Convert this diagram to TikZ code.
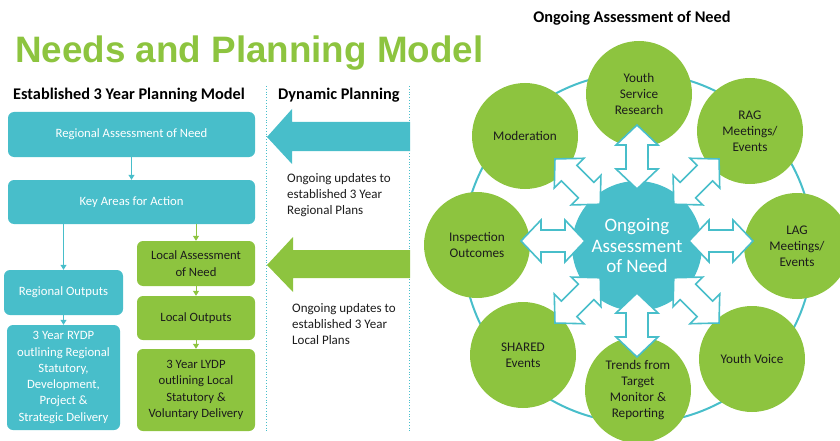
\documentclass[tikz,border=0pt]{standalone}
\usepackage{fontspec}
\setmainfont{Carlito}
\newfontfamily\titlefont{Liberation Sans}
\usetikzlibrary{arrows.meta,calc}
\definecolor{tealc}{RGB}{72,190,202}
\definecolor{greenc}{RGB}{141,196,63}
\definecolor{txtdark}{RGB}{28,28,28}
\begin{document}
\begin{tikzpicture}[x=1pt,y=-1pt,
  box/.style={rounded corners=6pt, inner sep=2pt, align=center,
    font=\fontsize{12.7}{16.3}\selectfont},
  tbox/.style={box, fill=tealc, text=white},
  gbox/.style={box, fill=greenc, text=txtdark},
  header/.style={font=\bfseries\fontsize{16.3}{18}\selectfont, text=black, inner sep=0},
  note/.style={font=\fontsize{13}{16}\selectfont, text=txtdark, align=left, inner sep=0},
  tline/.style={draw=tealc, line width=1pt, -{Triangle[width=6pt,length=5pt]}},
  gline/.style={draw=greenc, line width=1pt, -{Triangle[width=6pt,length=5pt]}},
  divider/.style={draw=tealc, line width=0.8pt, dotted},
  outer/.style={circle, fill=greenc, minimum size=106pt, inner sep=0, align=center,
    font=\fontsize{13.2}{16}\selectfont, text=txtdark},
  hub/.style={circle, fill=tealc, minimum size=130pt, inner sep=0, align=center,
    font=\fontsize{19}{20.5}\selectfont, text=white},
  darr/.style={fill=white, draw=tealc, line width=1.6pt, line join=miter}
]
\useasboundingbox (0,0) rectangle (840,441);

% title and column headers
\node[anchor=base west, font=\titlefont\bfseries\fontsize{36.8}{40}\selectfont,
  text=greenc, inner sep=0] (title) at (15,63) {Needs and Planning Model};
\node[header, anchor=base west] (hdrA) at (13,100) {Established 3 Year Planning Model};
\node[header, anchor=base west] (hdrB) at (278,100) {Dynamic Planning};
\node[header, anchor=base] (hdrC) at (632,23) {Ongoing Assessment of Need};

% dotted column dividers
\coordinate (d1a) at (266,86);
\coordinate (d1b) at (266,432);
\coordinate (d2a) at (409,86);
\coordinate (d2b) at (409,432);
\draw[divider] (d1a) -- (d1b);
\draw[divider] (d2a) -- (d2b);

% established planning model
\node[tbox, minimum width=247pt, minimum height=45pt] (ran) at (131.5,134.5) {Regional Assessment of Need};
\node[tbox, minimum width=247pt, minimum height=44pt] (kaa) at (131.5,202) {Key Areas for Action};
\node[tbox, minimum width=119pt, minimum height=45pt] (rout) at (63.5,292.5) {Regional Outputs};
\node[tbox, minimum width=113pt, minimum height=105pt] (rydp) at (63.5,377.5)
  {3 Year RYDP\\outlining Regional\\Statutory,\\Development,\\Project \&\\Strategic Delivery};
\node[gbox, minimum width=118pt, minimum height=45pt] (lan) at (196,263.5) {Local Assessment\\of Need};
\node[gbox, minimum width=118pt, minimum height=44pt] (lout) at (196,318) {Local Outputs};
\node[gbox, minimum width=118pt, minimum height=82pt] (lydp) at (196,390)
  {3 Year LYDP\\outlining Local\\Statutory \&\\Voluntary Delivery};

\draw[tline] (ran.south) -- (kaa.north);
\draw[tline] (rout.north |- kaa.south) -- (rout.north);
\draw[tline] (rout.south) -- (rydp.north);
\draw[gline] (lan.north |- kaa.south) -- (lan.north);
\draw[gline] (lan.south) -- (lout.north);
\draw[gline] (lout.south) -- (lydp.north);

% dynamic planning block arrows
\fill[tealc] (267,137) -- (292,109) -- (292,122) -- (410,122) -- (410,151)
  -- (292,151) -- (292,164) -- cycle;
\fill[greenc] (267,265) -- (293,237) -- (293,250) -- (410,250) -- (410,278)
  -- (293,278) -- (293,292) -- cycle;
\node[note, anchor=north west] (noteA) at (287,173)
  {Ongoing updates to\\established 3 Year\\Regional Plans};
\node[note, anchor=north west] (noteB) at (292,303)
  {Ongoing updates to\\established 3 Year\\Local Plans};

% ongoing assessment wheel
\node[circle, draw=tealc, line width=2pt, minimum size=350pt, inner sep=0] (ring) at (638,248) {};
\node[outer] (o1) at (639,94) {Youth\\Service\\Research};
\node[outer] (o2) at (750,131) {RAG\\Meetings/\\Events};
\node[outer] (o3) at (797,246) {LAG\\Meetings/\\Events};
\node[outer] (o4) at (752,359) {Youth Voice};
\node[outer] (o5) at (638,390) {Trends from\\Target\\Monitor \&\\Reporting};
\node[outer] (o6) at (523,355) {SHARED\\Events};
\node[outer] (o7) at (477,245) {Inspection\\Outcomes};
\node[outer] (o8) at (525,136) {Moderation};
\node[hub] (hub) at (637,246) {Ongoing\\Assessment\\of Need};
\coordinate (spoke) at ($(hub.center)+(0,-5)$);

% two-way links between the hub and each source
\foreach \a in {0,45,...,315}{
  \draw[darr, shift={(spoke)}, rotate=\a]
    (52,0) -- (72,21) -- (72,11) -- (96,11) -- (96,21) -- (116,0)
    -- (96,-21) -- (96,-11) -- (72,-11) -- (72,-21) -- cycle;
}
\end{tikzpicture}
\end{document}
